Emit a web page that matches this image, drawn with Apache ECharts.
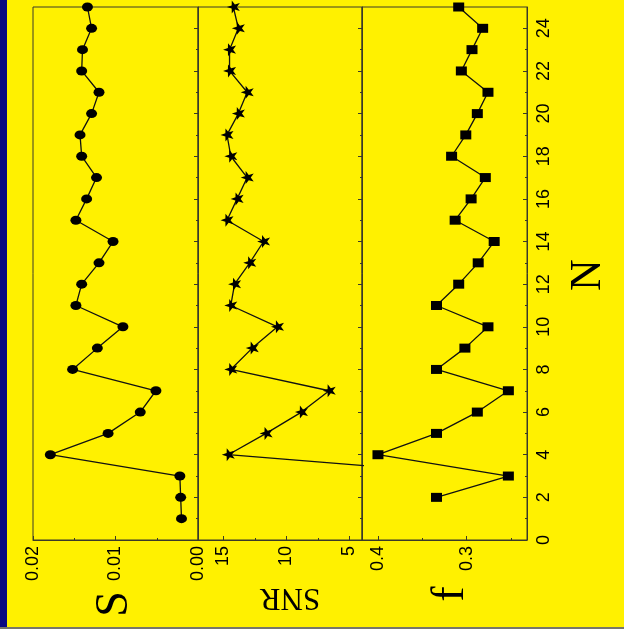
<!DOCTYPE html>
<html>
<head>
<meta charset="utf-8">
<script src="https://cdn.jsdelivr.net/npm/echarts@6/dist/echarts.min.js"></script>
<style>
html,body{margin:0;padding:0;background:#FFF100;}
#c{width:624px;height:629px;}
</style>
</head>
<body>
<div id="c"></div>
<script>
// Data
const N = [1,2,3,4,5,6,7,8,9,10,11,12,13,14,15,16,17,18,19,20,21,22,23,24,25];
const S = [0.0020,0.0021,0.0022,0.0179,0.0109,0.0070,0.0051,0.0152,0.0122,0.0091,0.0148,0.0141,0.0120,0.0103,0.0148,0.0135,0.0123,0.0141,0.0143,0.0129,0.0120,0.0141,0.0140,0.0129,0.0134];
const SNR = [null,null,-6.4,14.6,11.6,8.8,6.6,14.4,12.7,10.7,14.4,14.1,12.9,11.8,14.7,13.9,13.1,14.4,14.7,13.8,13.1,14.5,14.5,13.8,14.2];
const F = [null,0.334,0.253,0.400,0.334,0.288,0.253,0.334,0.302,0.276,0.334,0.309,0.287,0.269,0.313,0.295,0.279,0.317,0.301,0.288,0.276,0.306,0.294,0.282,0.309];
const NTicks = [0,2,4,6,8,10,12,14,16,18,20,22,24];
const SLabels = [0, 0.01, 0.02];
const SNRLabels = [5, 10, 15];
const SNRMinor = [7.5, 12.5];
const FLabels = [0.3, 0.4];
const FMinor = [0.25, 0.35];

const star = 'path://M0,-10 L2.35,-3.24 L9.51,-3.09 L3.8,1.24 L5.88,8.09 L0,4 L-5.88,8.09 L-3.8,1.24 L-9.51,-3.09 L-2.35,-3.24 Z';
const pairs = (vals) => N.map((n, i) => [vals[i], n]);

const ink = '#111';
const frame = '#3a3a2a';
const axisLine = {show: true, lineStyle: {color: frame, width: 1}};
const labelFont = {color: '#000', fontFamily: 'Liberation Sans', fontSize: 18};

const grids = [
  {left: 33, right: 426, top: 7, bottom: 89},
  {left: 198, right: 262, top: 7, bottom: 89},
  {left: 362, right: 97, top: 7, bottom: 89}
].map(g => Object.assign(g, {show: true, borderColor: frame, borderWidth: 1, backgroundColor: 'transparent', containLabel: false}));

function valueX(gridIndex, min, max, extra) {
  return Object.assign({
    type: 'value', gridIndex, min, max, inverse: true, position: 'bottom',
    axisLine, splitLine: {show: false},
    axisTick: {show: true, inside: true, length: 4, lineStyle: {color: frame}},
    axisLabel: Object.assign({rotate: 90, margin: 6}, labelFont)
  }, extra);
}

const xAxis = [
  valueX(0, 0, 0.02, {interval: 0.01,
    minorTick: {show: true, splitNumber: 2, length: 2, lineStyle: {color: frame}},
    axisLabel: Object.assign({rotate: 90, margin: 6, formatter: v => v.toFixed(2), customValues: SLabels}, labelFont)}),
  valueX(1, 4, 17, {
    axisTick: {show: true, inside: true, length: 4, customValues: SNRLabels, lineStyle: {color: frame}},
    axisLabel: Object.assign({rotate: 90, margin: 6, customValues: SNRLabels}, labelFont)}),
  valueX(2, 0.232, 0.418, {
    axisTick: {show: true, inside: true, length: 4, customValues: FLabels, lineStyle: {color: frame}},
    axisLabel: Object.assign({rotate: 90, margin: 6, formatter: v => v.toFixed(1), customValues: FLabels}, labelFont)}),
  // minor ticks for SNR and f
  valueX(1, 4, 17, {axisLine: {show: false}, axisLabel: {show: false},
    axisTick: {show: true, inside: true, length: 2, customValues: SNRMinor, lineStyle: {color: frame}}}),
  valueX(2, 0.232, 0.418, {axisLine: {show: false}, axisLabel: {show: false},
    axisTick: {show: true, inside: true, length: 2, customValues: FMinor, lineStyle: {color: frame}}})
];

function nAxis(gridIndex, showLabels) {
  return {
    type: 'value', gridIndex, min: 0, max: 25, interval: 2, position: 'right',
    axisLine, splitLine: {show: false},
    axisTick: {show: true, inside: true, length: 4, customValues: NTicks, lineStyle: {color: frame}},
    minorTick: {show: true, splitNumber: 2, length: 2, lineStyle: {color: frame}},
    axisLabel: Object.assign({show: showLabels, rotate: 90, margin: 8, customValues: NTicks}, labelFont)
  };
}
const yAxis = [nAxis(0, false), nAxis(1, false), nAxis(2, true)];

const lineStyle = {color: ink, width: 1.3};
const series = [
  {type: 'line', xAxisIndex: 0, yAxisIndex: 0, data: pairs(S), symbol: 'circle', symbolSize: [11, 9],
   itemStyle: {color: '#000'}, lineStyle, clip: true, animation: false},
  {type: 'line', xAxisIndex: 1, yAxisIndex: 1, data: pairs(SNR), symbol: star, symbolSize: [13, 13], symbolRotate: 90,
   itemStyle: {color: '#000'}, lineStyle, clip: true, animation: false},
  {type: 'line', xAxisIndex: 2, yAxisIndex: 2, data: pairs(F), symbol: 'rect', symbolSize: [11, 9],
   itemStyle: {color: '#000'}, lineStyle, clip: true, animation: false}
];

const graphic = [
  {type: 'rect', left: 0, top: 0, shape: {width: 7, height: 629}, style: {fill: '#0a0a80'}, silent: true},
  {type: 'rect', left: 0, top: 627, shape: {width: 624, height: 2}, style: {fill: '#77776a'}, silent: true},
  {type: 'text', x: 115, y: 604, rotation: Math.PI / 2,
   style: {text: 'S', font: '46px "Liberation Serif"', fill: '#000', textAlign: 'center', textVerticalAlign: 'middle'}},
  {type: 'text', x: 290, y: 597, rotation: Math.PI,
   style: {text: 'SNR', font: '31px "Liberation Serif"', fill: '#000', textAlign: 'center', textVerticalAlign: 'middle'}},
  {type: 'text', x: 451, y: 594, rotation: Math.PI / 2,
   style: {text: 'f', font: '46px "Liberation Serif"', fill: '#000', textAlign: 'center', textVerticalAlign: 'middle'}},
  {type: 'text', x: 588, y: 275, rotation: Math.PI / 2,
   style: {text: 'N', font: '44px "Liberation Serif"', fill: '#000', textAlign: 'center', textVerticalAlign: 'middle'}}
];

const chart = echarts.init(document.getElementById('c'), null, {renderer: 'canvas'});
chart.setOption({
  backgroundColor: '#FFF100',
  animation: false,
  grid: grids,
  xAxis, yAxis, series, graphic
});
</script>
</body>
</html>
